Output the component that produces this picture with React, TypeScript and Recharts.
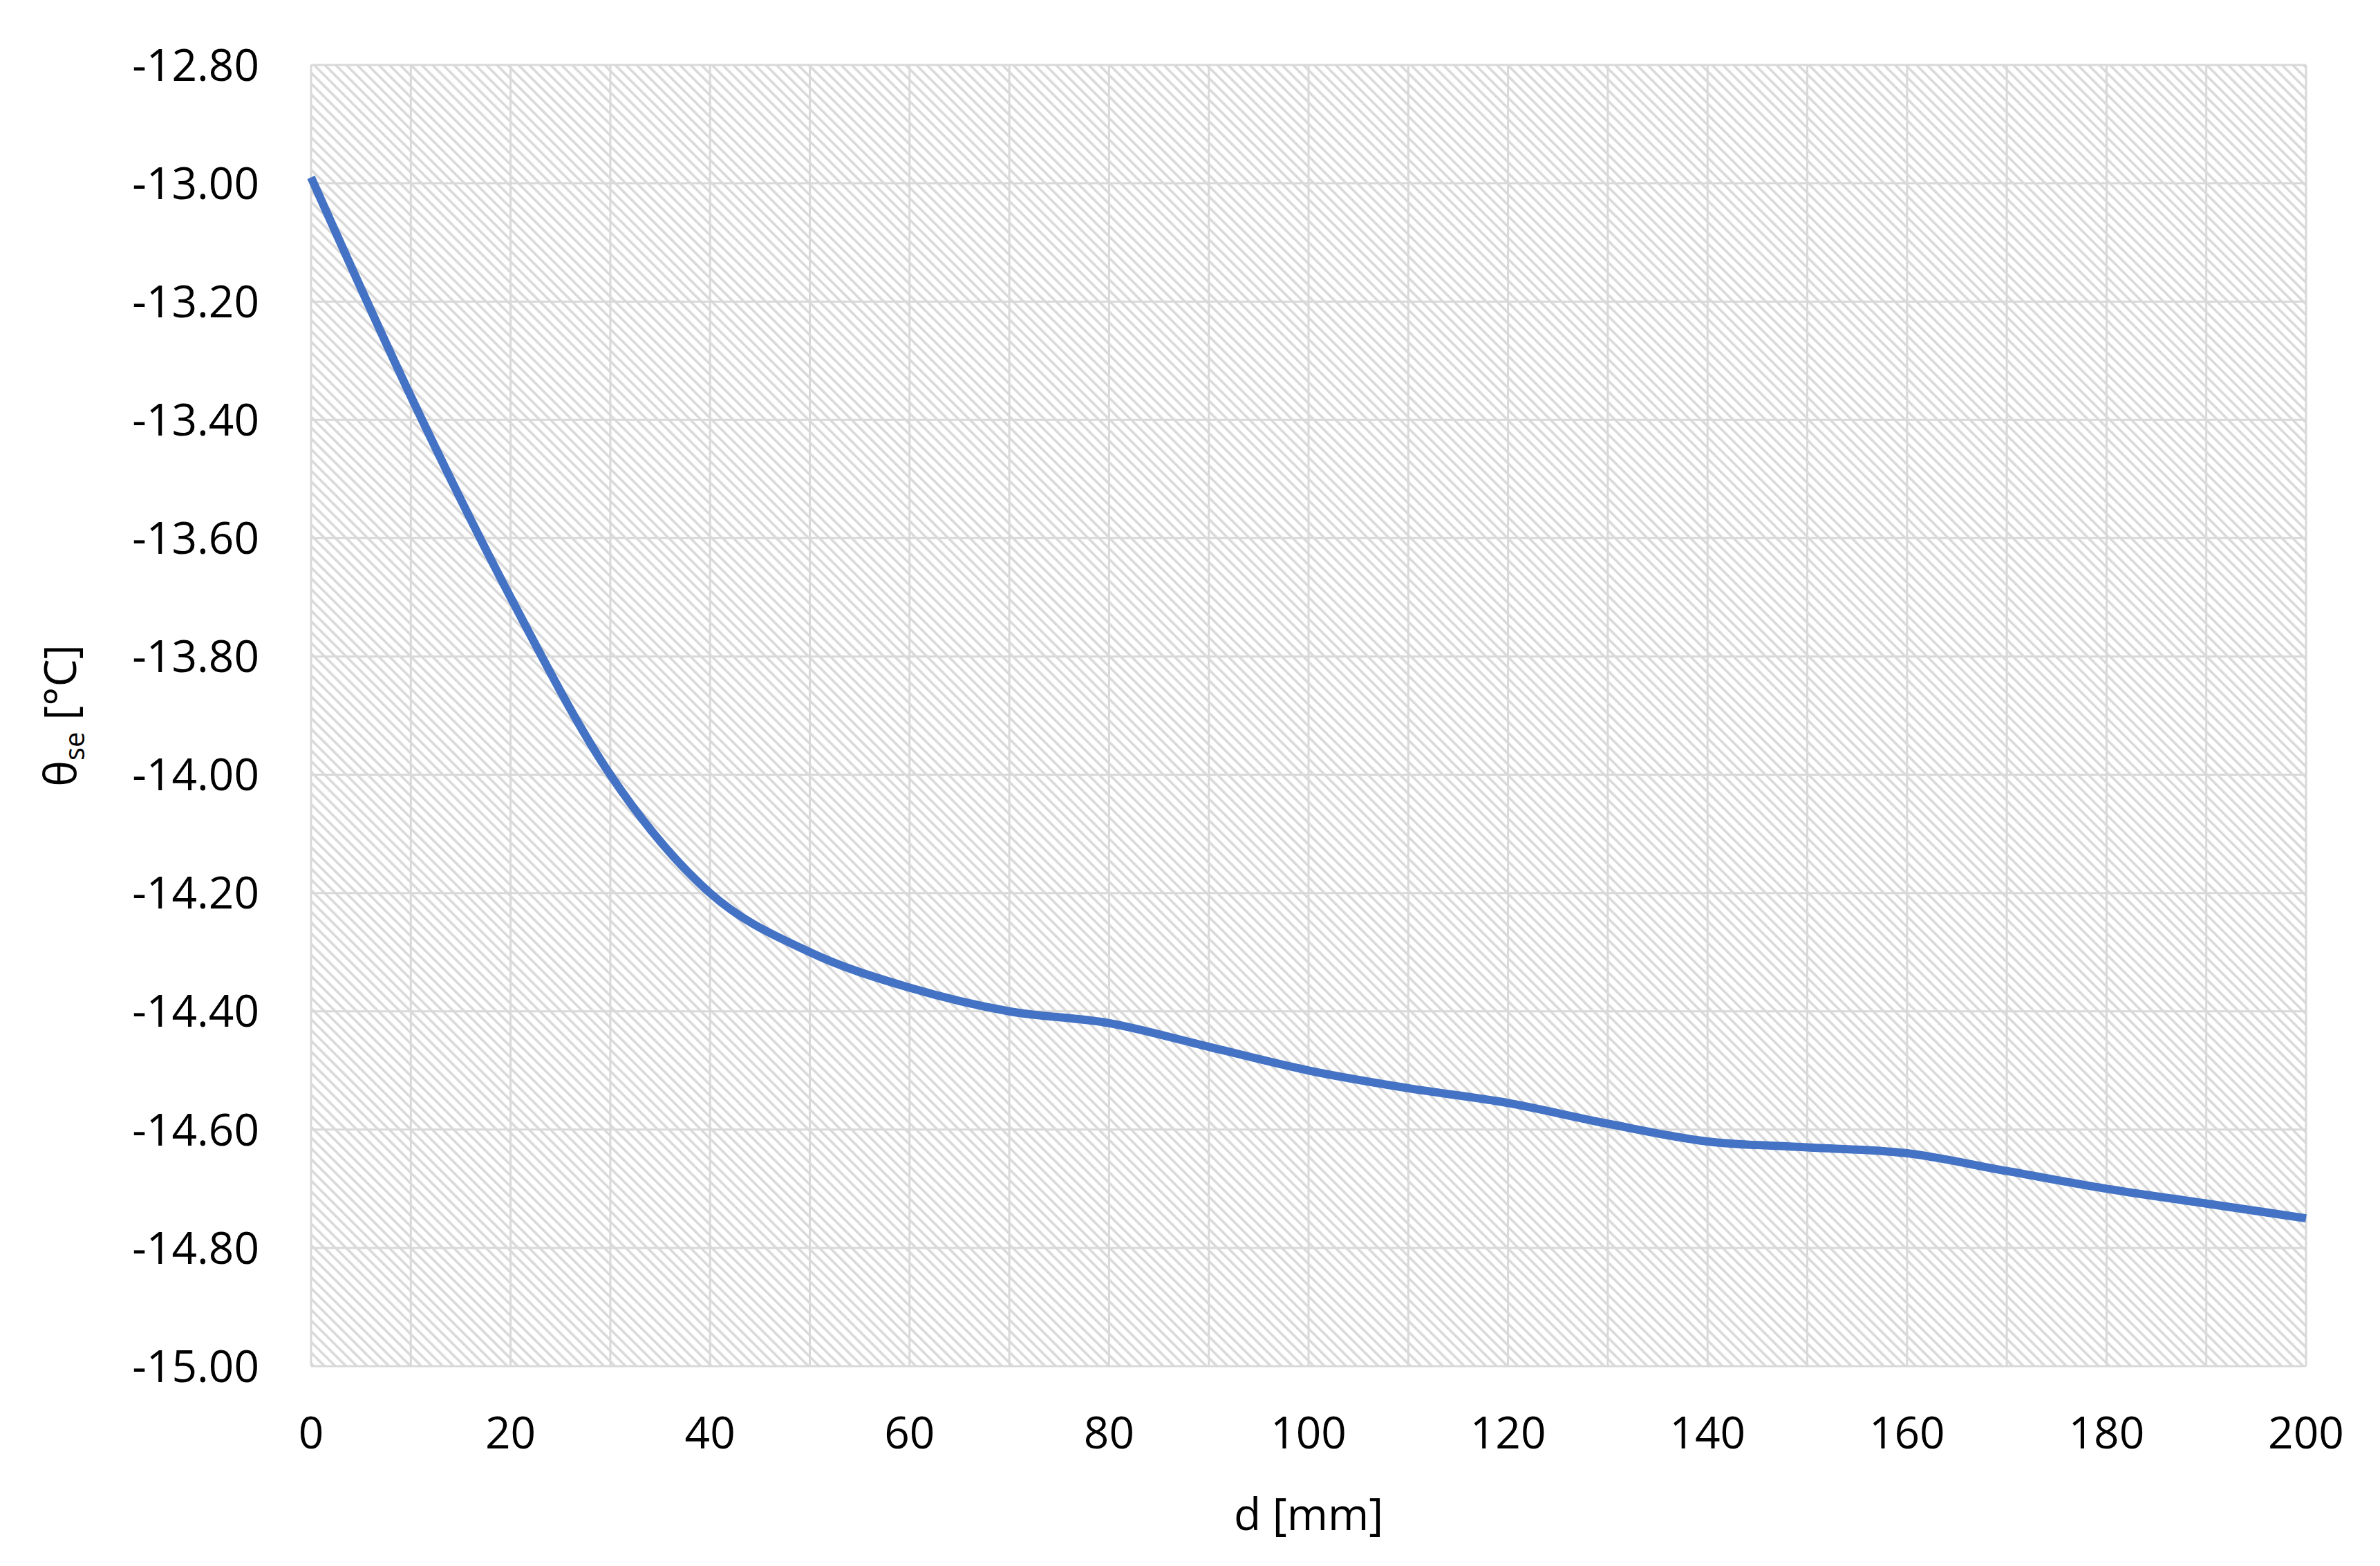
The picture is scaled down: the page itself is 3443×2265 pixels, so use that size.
import { LineChart, Line, XAxis, YAxis, CartesianGrid, Label } from 'recharts';

// d [mm]
const DISTANCES = [0, 10, 20, 30, 40, 50, 60, 70, 80, 90, 100, 110, 120, 130, 140, 150, 160, 170, 180, 190, 200];
// surface temperature θse [°C]
const TEMPS = [
  -12.99, -13.36, -13.7, -14.0, -14.2, -14.3, -14.36, -14.4, -14.42, -14.46, -14.5,
  -14.53, -14.555, -14.59, -14.62, -14.63, -14.64, -14.67, -14.7, -14.725, -14.75,
];

const X_TICKS = [0, 10, 20, 30, 40, 50, 60, 70, 80, 90, 100, 110, 120, 130, 140, 150, 160, 170, 180, 190, 200];
const X_LABELED = [0, 20, 40, 60, 80, 100, 120, 140, 160, 180, 200];
const Y_TICKS = [-15, -14.8, -14.6, -14.4, -14.2, -14, -13.8, -13.6, -13.4, -13.2, -13, -12.8];

const FONT = '"Open Sans", sans-serif';
const GRID = '#d9d9d9';

const data = DISTANCES.map((d, i) => ({ d, t: TEMPS[i] }));

const XTitle = (props: any) => {
  const vb = props.viewBox;
  return (
    <text x={vb.x + vb.width / 2} y={2191} dy="0.35em" textAnchor="middle" fontFamily={FONT} fontSize={64} fill="#000">
      d [mm]
    </text>
  );
};

const YTitle = (props: any) => {
  const vb = props.viewBox;
  const cx = 88;
  const cy = vb.y + vb.height / 2;
  return (
    <text
      x={cx}
      y={cy}
      dy="0.35em"
      textAnchor="middle"
      transform={`rotate(-90 ${cx} ${cy})`}
      fontFamily={FONT}
      fontSize={64}
      fill="#000"
    >
      θ
      <tspan fontSize={40} dy={12}>se</tspan>
      <tspan dy={-12}> [°C]</tspan>
    </text>
  );
};

export default function App() {
  return (
    <div style={{ position: 'absolute', left: 0, top: 0, width: 3443, height: 2265, background: '#fff' }}>
      <svg width={0} height={0} style={{ position: 'absolute' }}>
        <defs>
          <pattern id="hatch" width={11} height={11} patternUnits="userSpaceOnUse" patternTransform="rotate(-45)">
            <rect x={0} y={0} width={3.6} height={11} fill="#d9d9d9" />
          </pattern>
        </defs>
      </svg>
      <LineChart width={3443} height={2265} data={data} margin={{ top: 94, right: 107, bottom: 0, left: 0 }}>
        <CartesianGrid stroke={GRID} strokeWidth={3} fill="url(#hatch)" fillOpacity={1} />
        <XAxis
          dataKey="d"
          type="number"
          domain={[0, 200]}
          ticks={X_TICKS}
          interval={0}
          tickFormatter={(v: number) => (X_LABELED.includes(v) ? String(v) : '')}
          axisLine={false}
          tickLine={false}
          tickSize={0}
          tickMargin={74}
          height={289}
          tick={{ fill: '#000', fontSize: 64, fontFamily: FONT }}
        >
          <Label content={XTitle} />
        </XAxis>
        <YAxis
          type="number"
          domain={[-15, -12.8]}
          ticks={Y_TICKS}
          interval={0}
          tickFormatter={(v: number) => v.toFixed(2)}
          axisLine={false}
          tickLine={false}
          tickSize={0}
          tickMargin={75}
          width={450}
          tick={{ fill: '#000', fontSize: 64, fontFamily: FONT }}
        >
          <Label content={YTitle} />
        </YAxis>
        <Line
          type="monotone"
          dataKey="t"
          stroke="#4472c4"
          strokeWidth={12}
          dot={false}
          activeDot={false}
          isAnimationActive={false}
        />
      </LineChart>
    </div>
  );
}
